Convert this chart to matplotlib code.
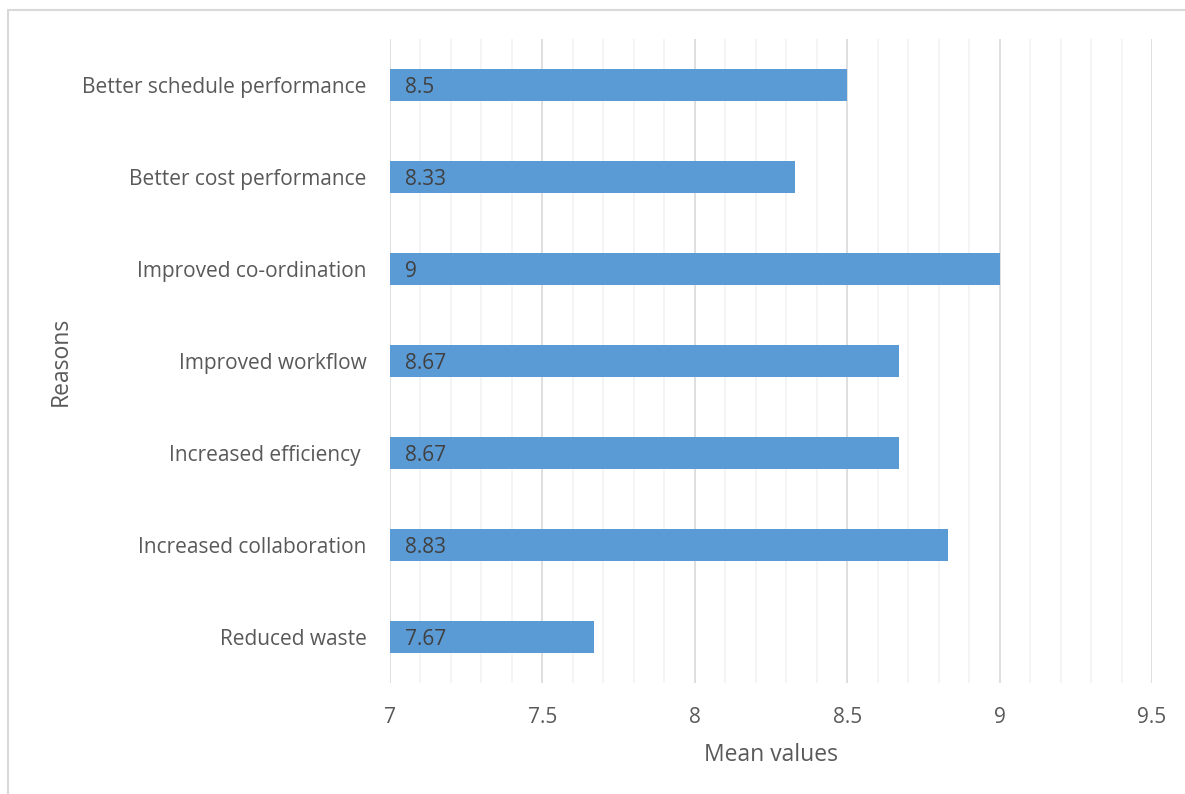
import numpy as np
import matplotlib.pyplot as plt
from matplotlib.patches import Rectangle
from matplotlib.ticker import MultipleLocator

plt.rcParams['font.family'] = ['Open Sans', 'DejaVu Sans']

# Reasons for adoption, mean scores
reasons = ['Better schedule performance', 'Better cost performance',
           'Improved co-ordination', 'Improved workflow',
           'Increased efficiency ', 'Increased collaboration', 'Reduced waste']
means = [8.5, 8.33, 9, 8.67, 8.67, 8.83, 7.67]
labels = ['8.5', '8.33', '9', '8.67', '8.67', '8.83', '7.67']

fig = plt.figure(figsize=(11.85, 7.94), dpi=100)
ax = fig.add_axes([390/1185, 1 - 683/794, (1152 - 390)/1185, (683 - 39)/794])

base = 7
y = np.arange(len(reasons))
ax.barh(y, np.array(means) - base, left=base, height=0.35, color='#5B9BD5', zorder=3)
for yi, lab in zip(y, labels):
    ax.text(base + 0.05, yi, lab, va='center_baseline', ha='left', fontsize=15,
            color='#404040', zorder=4)

ax.set_xlim(7, 9.5)
ax.set_ylim(len(reasons) - 0.5, -0.5)
ax.set_yticks(y)
ax.set_yticklabels(reasons)
ax.xaxis.set_major_locator(MultipleLocator(0.5))
ax.xaxis.set_minor_locator(MultipleLocator(0.1))
ax.xaxis.set_major_formatter(lambda v, p: f'{v:g}')
ax.grid(which='minor', axis='x', color='#F2F2F2', lw=1.2, zorder=0)
ax.grid(which='major', axis='x', color='#D9D9D9', lw=1.2, zorder=1)
ax.tick_params(which='both', length=0, colors='#595959', labelsize=15)
ax.tick_params(axis='x', pad=17)
ax.tick_params(axis='y', pad=17)
for s in ax.spines.values():
    s.set_visible(False)

ax.set_xlabel('Mean values', fontsize=16.5, color='#595959', labelpad=11)
ax.set_ylabel('Reasons', fontsize=16.5, color='#595959', labelpad=7)

# outer chart frame
fig.patches.append(Rectangle((8/1185, -0.05), 1.1, 1 - 10/794 + 0.05,
                             transform=fig.transFigure, fill=False,
                             edgecolor='#D9D9D9', lw=1.5))

fig.savefig('out.png', dpi=100)
